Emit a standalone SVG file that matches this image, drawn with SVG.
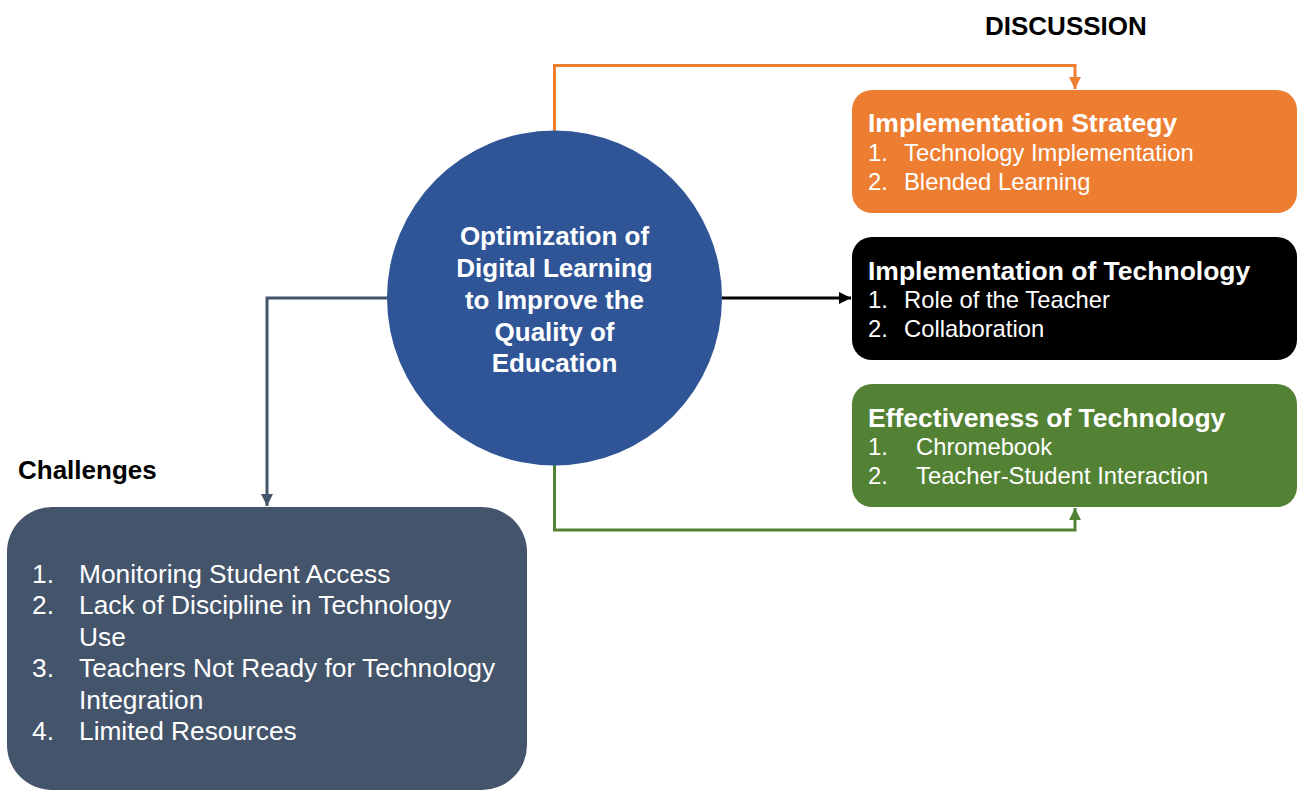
<svg xmlns="http://www.w3.org/2000/svg" width="1298" height="792" viewBox="0 0 1298 792">
  <defs>
    <style>
      text { font-family: "Liberation Sans", Arial, sans-serif; }
      .hdr { font-size: 26px; font-weight: bold; fill: #000; }
      .title { font-size: 26.5px; font-weight: bold; fill: #fff; }
      .item { font-size: 23.8px; fill: #fff; }
      .gitem { font-size: 26.3px; fill: #fff; }
      .hub { font-size: 26px; font-weight: bold; fill: #fff; text-anchor: middle; }
      .conn { fill: none; stroke-width: 3; }
    </style>
    <marker id="arrOrange" viewBox="0 0 10 10" refX="10" refY="5" markerWidth="4" markerHeight="4" markerUnits="strokeWidth" orient="auto">
      <path d="M0,0 L10,5 L0,10 Z" fill="#ED7D31"/>
    </marker>
    <marker id="arrBlack" viewBox="0 0 10 10" refX="10" refY="5" markerWidth="4" markerHeight="4" markerUnits="strokeWidth" orient="auto">
      <path d="M0,0 L10,5 L0,10 Z" fill="#000"/>
    </marker>
    <marker id="arrGreen" viewBox="0 0 10 10" refX="10" refY="5" markerWidth="4" markerHeight="4" markerUnits="strokeWidth" orient="auto">
      <path d="M0,0 L10,5 L0,10 Z" fill="#548235"/>
    </marker>
    <marker id="arrSlate" viewBox="0 0 10 10" refX="10" refY="5" markerWidth="4" markerHeight="4" markerUnits="strokeWidth" orient="auto">
      <path d="M0,0 L10,5 L0,10 Z" fill="#44546A"/>
    </marker>
  </defs>

  <rect width="1298" height="792" fill="#fff"/>

  <!-- section headings -->
  <text class="hdr" x="985" y="35">DISCUSSION</text>
  <text class="hdr" x="18" y="479">Challenges</text>

  <!-- connectors -->
  <g id="connectors">
    <path class="conn" stroke="#ED7D31" d="M554.5,131 V65.5 H1075 V89" marker-end="url(#arrOrange)"/>
    <path class="conn" stroke="#000" d="M722,298 H851" marker-end="url(#arrBlack)"/>
    <path class="conn" stroke="#548235" d="M554.5,465 V530 H1075 V508" marker-end="url(#arrGreen)"/>
    <path class="conn" stroke="#44546A" d="M388,298 H267 V506" marker-end="url(#arrSlate)"/>
  </g>

  <!-- central topic -->
  <g id="hub">
    <circle cx="554.5" cy="298" r="167.5" fill="#2F5597"/>
    <text class="hub" x="554.5" y="245">Optimization of</text>
    <text class="hub" x="554.5" y="277">Digital Learning</text>
    <text class="hub" x="554.5" y="308.5">to Improve the</text>
    <text class="hub" x="554.5" y="340.5">Quality of</text>
    <text class="hub" x="554.5" y="372">Education</text>
  </g>

  <!-- implementation strategy -->
  <g id="strategy">
    <rect x="852" y="90" width="445" height="123" rx="20" fill="#ED7D31"/>
    <text class="title" x="868" y="132">Implementation Strategy</text>
    <text class="item" x="868" y="161">1.</text>
    <text class="item" x="904" y="161">Technology Implementation</text>
    <text class="item" x="868" y="189.5">2.</text>
    <text class="item" x="904" y="189.5">Blended Learning</text>
  </g>

  <!-- implementation of technology -->
  <g id="implementation">
    <rect x="852" y="237" width="445" height="123" rx="20" fill="#000"/>
    <text class="title" x="868" y="279.5">Implementation of Technology</text>
    <text class="item" x="868" y="308">1.</text>
    <text class="item" x="904" y="308">Role of the Teacher</text>
    <text class="item" x="868" y="336.5">2.</text>
    <text class="item" x="904" y="336.5">Collaboration</text>
  </g>

  <!-- effectiveness of technology -->
  <g id="effectiveness">
    <rect x="852" y="384" width="445" height="123" rx="20" fill="#548235"/>
    <text class="title" x="868" y="426.5">Effectiveness of Technology</text>
    <text class="item" x="868" y="455">1.</text>
    <text class="item" x="916" y="455">Chromebook</text>
    <text class="item" x="868" y="483.5">2.</text>
    <text class="item" x="916" y="483.5">Teacher-Student Interaction</text>
  </g>

  <!-- challenges -->
  <g id="challenges">
    <rect x="7" y="507" width="520" height="283" rx="45" fill="#44546A"/>
    <text class="gitem" x="32" y="582.5">1.</text>
    <text class="gitem" x="79" y="582.5">Monitoring Student Access</text>
    <text class="gitem" x="32" y="614">2.</text>
    <text class="gitem" x="79" y="614">Lack of Discipline in Technology</text>
    <text class="gitem" x="79" y="645.5">Use</text>
    <text class="gitem" x="32" y="677">3.</text>
    <text class="gitem" x="79" y="677">Teachers Not Ready for Technology</text>
    <text class="gitem" x="79" y="708.5">Integration</text>
    <text class="gitem" x="32" y="740">4.</text>
    <text class="gitem" x="79" y="740">Limited Resources</text>
  </g>
</svg>
